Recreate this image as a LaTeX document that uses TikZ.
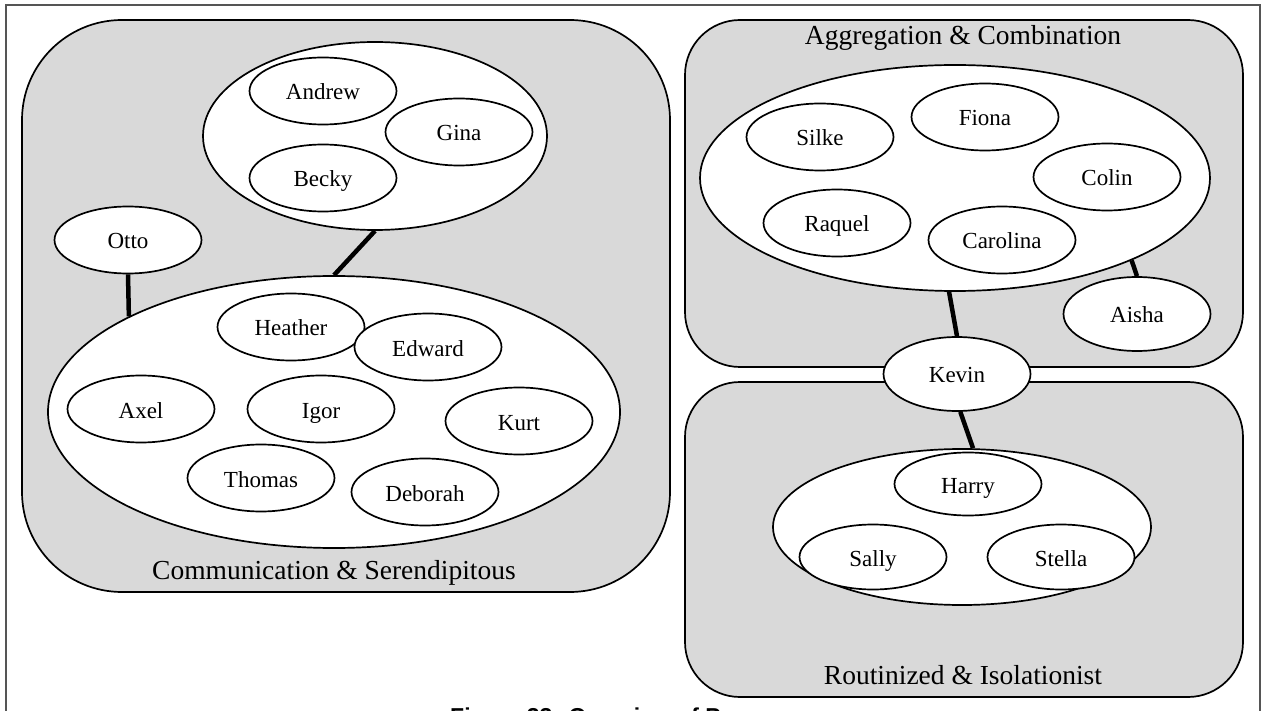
\documentclass[tikz,border=0pt]{standalone}
\usepackage{fontspec}
\setmainfont{Liberation Serif}
\newfontfamily\capfont{Liberation Sans}
\usetikzlibrary{shapes.geometric}
\definecolor{groupgray}{HTML}{D9D9D9}
\definecolor{framegray}{HTML}{555555}
\begin{document}
\begin{tikzpicture}[x=1pt,y=-1pt,
  group/.style={draw=black, line width=1.7pt, fill=groupgray, rounded corners=#1, inner sep=0},
  cluster/.style={ellipse, draw=black, line width=1.7pt, fill=white, inner sep=0},
  person/.style={ellipse, draw=black, line width=1.7pt, fill=white, inner sep=0,
    minimum width=147, minimum height=67, text height=18pt, text depth=0pt,
    font=\fontsize{23}{27}\selectfont},
  grouplabel/.style={font=\fontsize{27.5}{32}\selectfont, inner sep=0},
  link/.style={line width=4.5pt, black},
  frameline/.style={draw=framegray, line width=1.6pt}]
\useasboundingbox (0,0) rectangle (1267,711);
\clip (0,0) rectangle (1267,711);
\fill[white] (0,0) rectangle (1267,711);

% page frame
\draw[frameline] (6,5) rectangle (1260,790);

% group containers
\node[group=100, minimum width=648, minimum height=572] (comm) at (346,306) {};
\node[group=55, minimum width=558, minimum height=347] (agg) at (964,193.5) {};
\node[group=55, minimum width=558, minimum height=315] (rout) at (964,539.5) {};

\node[grouplabel] (commlabel) at (334,573) {Communication \& Serendipitous};
\node[grouplabel] (agglabel) at (963,38) {Aggregation \& Combination};
\node[grouplabel] (routlabel) at (963,675) {Routinized \& Isolationist};

% communication & serendipitous
\node[cluster, minimum width=344, minimum height=188] (ctop) at (375,136) {};
\node[person] (andrew) at (323,91) {Andrew};
\node[person] (gina) at (459,132) {Gina};
\node[person] (becky) at (323,178) {Becky};

\node[person] (otto) at (128,240) {Otto};

\node[cluster, minimum width=572, minimum height=272] (cbot) at (334,412) {};
\node[person] (heather) at (291,327) {Heather};
\node[person] (edward) at (428,347) {Edward};
\node[person] (axel) at (141,409) {Axel};
\node[person] (igor) at (321,409) {Igor};
\node[person] (kurt) at (519,421) {Kurt};
\node[person] (thomas) at (261,478) {Thomas};
\node[person] (deborah) at (425,492) {Deborah};

% aggregation & combination
\node[cluster, minimum width=510, minimum height=226] (atop) at (955,178) {};
\node[person] (silke) at (820,137) {Silke};
\node[person] (fiona) at (985,117) {Fiona};
\node[person] (colin) at (1107,177) {Colin};
\node[person] (raquel) at (837,223) {Raquel};
\node[person] (carolina) at (1002,240) {Carolina};
\node[person, minimum height=74] (aisha) at (1137,314) {Aisha};

% routinized & isolationist
\node[cluster, minimum width=378, minimum height=156] (rbot) at (962,527) {};
\node[person, minimum height=63] (harry) at (968,484) {Harry};
\node[person, minimum height=65] (sally) at (873,557) {Sally};
\node[person, minimum height=65] (stella) at (1061,557) {Stella};

\node[person, minimum height=74] (kevin) at (957,374) {Kevin};

% links
\draw[link] (ctop.south) -- (cbot.north);
\draw[link] (otto.south) -- (cbot.155);
\draw[link] (atop.-93) -- (kevin.north);
\draw[link] (atop.-25.5) -- (aisha.north);
\draw[link] (kevin.-85) -- (rbot.82);

% caption
\node[anchor=base west, inner sep=0, font=\capfont\bfseries\fontsize{23}{28}\selectfont] (caption) at (450,724.5) {Figure 33: Overview of P};
\end{tikzpicture}
\end{document}
